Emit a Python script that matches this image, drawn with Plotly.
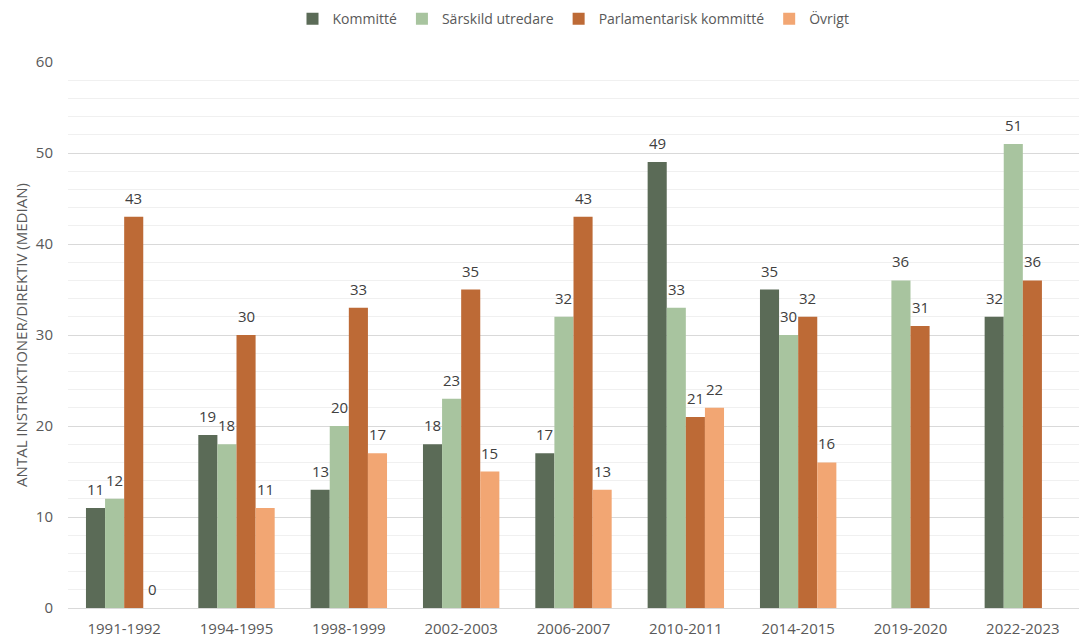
import plotly.graph_objects as go

categories = ["1991-1992", "1994-1995", "1998-1999", "2002-2003", "2006-2007",
              "2010-2011", "2014-2015", "2019-2020", "2022-2023"]
kommitte = [11, 19, 13, 18, 17, 49, 35, None, 32]
sarskild = [12, 18, 20, 23, 32, 33, 30, 36, 51]
parlamentarisk = [43, 30, 33, 35, 43, 21, 32, 31, 36]
ovrigt = [0, 11, 17, 15, 13, 22, 16, None, None]

series = [
    ("Kommitté", kommitte, "#5B6B57"),
    ("Särskild utredare", sarskild, "#A8C49F"),
    ("Parlamentarisk kommitté", parlamentarisk, "#BD6A36"),
    ("Övrigt", ovrigt, "#F2A673"),
]

FONT = "Open Sans, Liberation Sans, sans-serif"
BARGAP = 0.32

fig = go.Figure()
n = len(series)
bw = (1 - BARGAP) / n
for j, (name, vals, color) in enumerate(series):
    fig.add_trace(go.Bar(
        name=name, x=categories, y=vals,
        marker=dict(color=color, line=dict(width=0)),
    ))
    for i, v in enumerate(vals):
        if v is None:
            continue
        fig.add_annotation(
            x=i + (j - (n - 1) / 2) * bw, y=v, xref="x", yref="y",
            text=str(v), showarrow=False, yanchor="bottom", yshift=7,
            font=dict(size=15, color="#404040", family=FONT),
        )

fig.update_layout(
    width=1079, height=641,
    barmode="group", bargap=BARGAP, bargroupgap=0,
    plot_bgcolor="white", paper_bgcolor="white",
    margin=dict(l=68, r=0, t=62, b=33),
    font=dict(family=FONT, color="#595959", size=14),
    legend=dict(orientation="h", x=0.5, xanchor="center", y=0.995, yanchor="top",
                yref="container", font=dict(size=14, color="#595959"),
                itemwidth=30, traceorder="normal"),
    showlegend=True,
)
fig.update_xaxes(showline=False, ticks="", ticklabelstandoff=10,
                 tickfont=dict(size=15, color="#595959"))
fig.update_yaxes(
    range=[0, 60], dtick=10, showgrid=True, gridcolor="#D9D9D9", gridwidth=1,
    zeroline=True, zerolinecolor="#D9D9D9", zerolinewidth=1,
    minor=dict(dtick=2, showgrid=True, gridcolor="#F0F0F0", gridwidth=1),
    tickfont=dict(size=15, color="#595959"), ticks="", ticklabelstandoff=14,
    title=dict(text="ANTAL INSTRUKTIONER/DIREKTIV (MEDIAN)", font=dict(size=15, color="#595959"), standoff=4),
)

fig.write_html("out.html")
